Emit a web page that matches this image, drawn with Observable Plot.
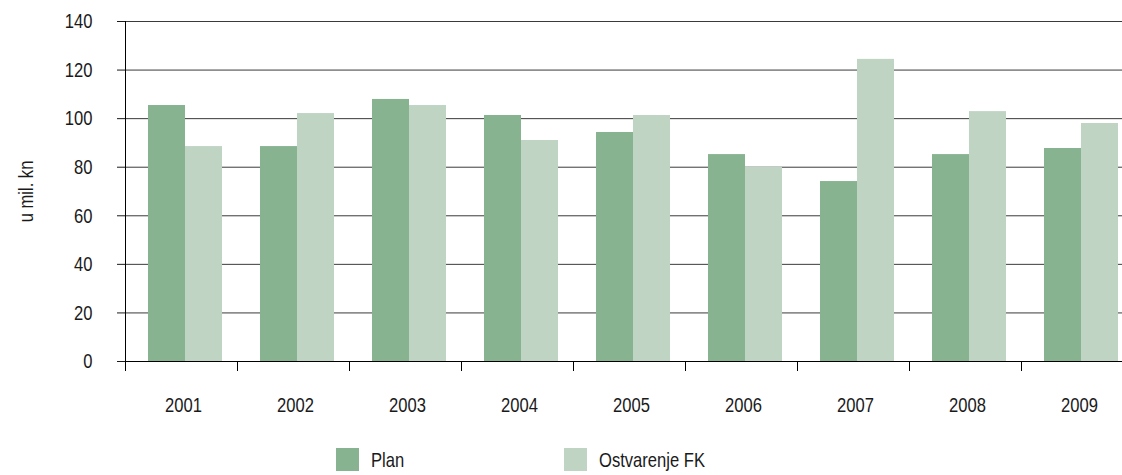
<!DOCTYPE html>
<html>
<head>
<meta charset="utf-8">
<script src="https://cdn.jsdelivr.net/npm/d3@7"></script>
<script src="https://cdn.jsdelivr.net/npm/@observablehq/plot@0.6"></script>
<style>
  body { margin: 0; background: #fff; overflow: hidden;
         font-family: "Liberation Sans", Arial, sans-serif; }
  #legend { position: relative; height: 35px; }
  .item { position: absolute; top: 8px; display: flex; align-items: center;
          font-size: 21px; color: #1a1a1a; line-height: 23px; white-space: nowrap; }
  .sw { width: 23px; height: 23px; margin-right: 12px; flex: none; }
  .txt { display: inline-block; transform: scaleX(0.79); transform-origin: left center; }
</style>
</head>
<body>
<div id="chart"></div>
<div id="legend"></div>
<script>
// Godine, plan i ostvarenje (u mil. kn)
const years = ["2001", "2002", "2003", "2004", "2005", "2006", "2007", "2008", "2009"];
const plan = [105.4, 88.5, 107.9, 101.3, 94.3, 85.2, 74.1, 85.2, 87.7];
const ostvarenje = [88.5, 102.1, 105.4, 91.0, 101.3, 80.0, 124.4, 102.9, 98.0];
const seriesNames = ["Plan", "Ostvarenje FK"];
const seriesColors = ["#87b391", "#c0d4c4"];
const yTicks = [0, 20, 40, 60, 80, 100, 120, 140];
const yLabel = "u mil. kn";

const rows = years.flatMap((year, i) => [
  {year, series: seriesNames[0], value: plan[i]},
  {year, series: seriesNames[1], value: ostvarenje[i]}
]);

const chart = Plot.plot({
  width: 1122,
  height: 440,
  marginLeft: 121,
  marginRight: -15,
  marginTop: 21,
  marginBottom: 79,
  style: {fontSize: "21px", fontFamily: "'Liberation Sans', Arial, sans-serif", color: "#1a1a1a"},
  fx: {domain: years, padding: 0},
  x: {domain: seriesNames, paddingInner: 0, paddingOuter: 0.504, align: 0.61, axis: null},
  y: {domain: [0, 140]},
  color: {domain: seriesNames, range: seriesColors},
  marks: [
    Plot.gridY(yTicks, {stroke: "#3a3a3a", strokeOpacity: 1}),
    Plot.barY(rows, {fx: "year", x: "series", y: "value", fill: "series"}),
    Plot.ruleY([0], {stroke: "#000"}),
    // y-axis line, reaching down to the first category tick
    Plot.frame({anchor: "left", facetAnchor: "left", insetBottom: -9, stroke: "#000"}),
    // category boundary ticks below the baseline
    Plot.frame({anchor: "left", insetTop: 340, insetBottom: -9, stroke: "#000"}),
    Plot.axisY(yTicks, {tickSize: 8, tickPadding: 25, label: yLabel, labelAnchor: "center", labelArrow: "none", labelOffset: 107}),
    Plot.axisFx({anchor: "bottom", tickSize: 0, tickPadding: 36, dx: 2, label: null})
  ]
});

// Narrow the lettering around each text anchor (condensed look)
chart.querySelectorAll("text").forEach((t) => {
  const tr = t.getAttribute("transform") || "";
  t.setAttribute("transform", (tr + " scale(0.79,1)").trim());
});
document.getElementById("chart").appendChild(chart);

// Legend below the plot
const legendLeft = [336, 564];
const legend = document.getElementById("legend");
seriesNames.forEach((name, i) => {
  const item = document.createElement("div");
  item.className = "item";
  item.style.left = legendLeft[i] + "px";
  const sw = document.createElement("span");
  sw.className = "sw";
  sw.style.background = seriesColors[i];
  const label = document.createElement("span");
  label.className = "txt";
  label.textContent = name;
  item.append(sw, label);
  legend.appendChild(item);
});
</script>
</body>
</html>
